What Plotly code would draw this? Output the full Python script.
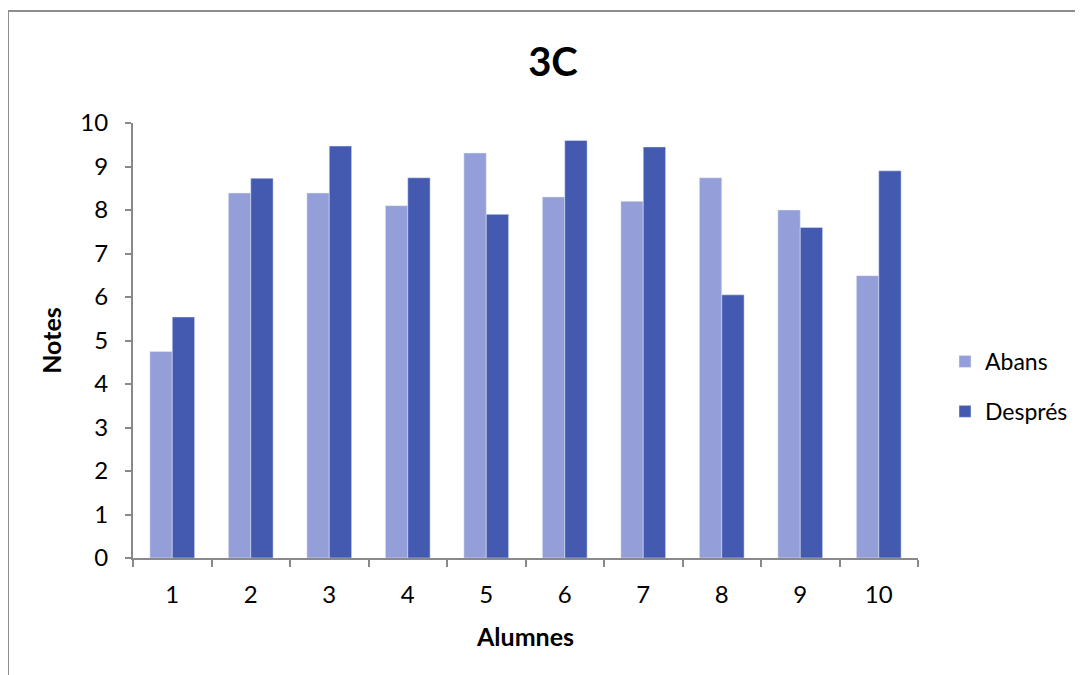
import plotly.graph_objects as go

alumnes = ["1", "2", "3", "4", "5", "6", "7", "8", "9", "10"]
abans = [4.75, 8.39, 8.39, 8.10, 9.31, 8.30, 8.20, 8.74, 8.00, 6.49]
despres = [5.54, 8.73, 9.47, 8.74, 7.90, 9.60, 9.45, 6.05, 7.60, 8.90]

FONT = "Lato"
AXIS_GRAY = "#898989"
OFF = 8  # page body offset

L, T, PW, PH = 133 - OFF, 123 - OFF, 785, 435

fig = go.Figure()
fig.add_trace(go.Bar(x=alumnes, y=abans, name="Abans", marker_color="#949ED8",
                     legendgroup="a"))
fig.add_trace(go.Bar(x=alumnes, y=despres, name="Després", marker_color="#435AB0",
                     legendgroup="b"))

fig.update_layout(
    width=1083, height=675,
    margin=dict(l=L, r=1083 - L - PW, t=T, b=675 - T - PH),
    paper_bgcolor="white", plot_bgcolor="white",
    font=dict(family=FONT, size=24, color="black"),
    bargap=0.43, bargroupgap=0,
    title=dict(text="<b>3C</b>", x=(553 - OFF) / 1083, xref="container", xanchor="center",
               y=1 - (62 - OFF) / 675, yref="container", yanchor="middle",
               font=dict(size=40, family=FONT, color="black")),
    legend=dict(x=(945 - OFF) / 1083, xref="container", xanchor="left",
                y=1 - (340 - OFF) / 675, yref="container", yanchor="top",
                traceorder="grouped", tracegroupgap=17,
                itemwidth=30,
                font=dict(size=23, family=FONT, color="black"),
                bgcolor="rgba(0,0,0,0)"),
    showlegend=True,
    hovermode=False,
)

fig.update_xaxes(
    type="category", showline=True, linecolor=AXIS_GRAY, linewidth=2,
    ticks="outside", tickson="boundaries", ticklen=7, tickcolor=AXIS_GRAY, tickwidth=2,
    ticklabelstandoff=14, showgrid=False, zeroline=False,
    title=dict(text="<b>Alumnes</b>", standoff=22, font=dict(size=25, family=FONT)),
)
fig.update_yaxes(
    range=[0, 10], dtick=1, showline=True, linecolor=AXIS_GRAY, linewidth=2,
    ticks="outside", ticklen=6, tickcolor=AXIS_GRAY, tickwidth=2,
    ticklabelstandoff=12, showgrid=False, zeroline=False,
    title=dict(text="<b>Notes</b>", standoff=12, font=dict(size=25, family=FONT)),
)

# outer chart-area frame (top and left edges visible)
x_left = (8 - OFF - L) / PW
y_top = 1 + (T - (11 - OFF)) / PH
fig.add_shape(type="line", xref="paper", yref="paper", x0=x_left, x1=x_left,
              y0=y_top, y1=-0.4, line=dict(color="#8E8E8E", width=2))
fig.add_shape(type="line", xref="paper", yref="paper", x0=x_left, x1=1.4,
              y0=y_top, y1=y_top, line=dict(color="#8E8E8E", width=2))

fig.write_html("out.html")
